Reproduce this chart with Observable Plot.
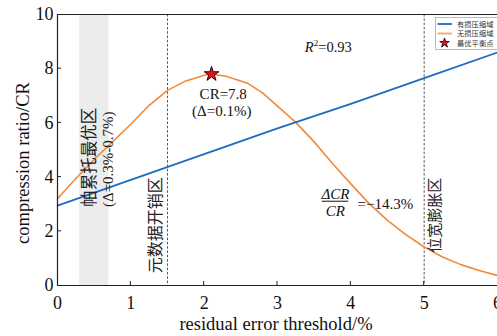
<!DOCTYPE html>
<html><head><meta charset="utf-8">
<script src="https://cdn.jsdelivr.net/npm/d3@7"></script>
<script src="https://cdn.jsdelivr.net/npm/@observablehq/plot@0.6"></script>
<style>body{margin:0;background:#fff} svg{display:block}</style>
</head><body><div id="chart"></div>
<script>
// ---- data ----
const lossyX = [0, 1, 2, 3, 4, 5, 6];
const lossyY = [2.95, 3.9, 4.85, 5.8, 6.7, 7.65, 8.6];
const losslessX = [0, 0.25, 0.5, 0.75, 1.0, 1.25, 1.5, 1.75, 2.0, 2.1, 2.3, 2.6, 2.8, 3.0, 3.25, 3.5, 3.75, 4.0, 4.25, 4.5, 4.75, 5.0, 5.25, 5.5, 5.75, 6.0];
const losslessY = [3.2, 3.95, 4.65, 5.3, 5.95, 6.65, 7.2, 7.55, 7.76, 7.8, 7.72, 7.45, 7.1, 6.62, 6.02, 5.3, 4.5, 3.75, 3.02, 2.4, 1.88, 1.42, 1.05, 0.77, 0.55, 0.37];
const optimumX = [2.1];
const optimumY = [7.8];
const xTicks = [0, 1, 2, 3, 4, 5, 6];
const yTicks = [0, 2, 4, 6, 8, 10];
const paretoBand = [0.3, 0.7];
const zoneBounds = [1.5, 5];
const legendLabels = ["有损压缩域", "无损压缩域", "最优平衡点"];
const xLabel = "residual error threshold/%";
const yLabel = "compression ratio/CR";
// annotation anchors (data units)
const zoneLabels = [
  {x: 0.44, y: 4.73, text: "帕累托最优区", size: 16.5},
  {x: 1.34, y: 2.22, text: "元数据开销区", size: 16},
  {x: 5.15, y: 2.59, text: "位宽膨胀区", size: 15}
];
const rangeLabels = [{x: 0.69, y: 4.66, text: "(Δ=0.3%-0.7%)"}];
const optLabels = [
  {x: 2.26, y: 7.06, text: "CR=7.8"},
  {x: 2.24, y: 6.43, text: "(Δ=0.1%)"}
];
const r2Anchor = {x: 3.70, y: 8.8, value: "0.93"};
const fracAnchor = {x: 3.79, yNum: 3.36, yDen: 2.74, yBar: 3.11, x1: 3.61, x2: 3.97, eqX: 4.47, eqY: 2.99, value: "=−14.3%"};

const BLUE = "#1f6bc4", ORANGE = "#ef8a3d", ORANGE_L = "#f5a46c";
const SERIF = "'Liberation Serif', 'Times New Roman', serif";
const CJK = "'Noto Sans CJK SC', sans-serif";

const lossy = lossyX.map((x, i) => ({x, y: lossyY[i]}));
const lossless = losslessX.map((x, i) => ({x, y: losslessY[i]}));
const optimum = optimumX.map((x, i) => ({x, y: optimumY[i]}));

const plot = Plot.plot({
  width: 497, height: 336,
  marginLeft: 57, marginRight: 0, marginTop: 14, marginBottom: 51,
  style: `font-family: ${SERIF}; font-size: 18px; color: #111; background: #fff; overflow: visible;`,
  x: {domain: [0, 6], label: null},
  y: {domain: [0, 10], label: null},
  marks: [
    Plot.rect([paretoBand], {x1: d => d[0], x2: d => d[1], fill: "#ececec"}),
    Plot.ruleX(zoneBounds, {stroke: "#555", strokeWidth: 1, strokeDasharray: "2.5,1.8"}),
    Plot.line(lossless, {x: "x", y: "y", stroke: ORANGE, strokeWidth: 1.6}),
    Plot.line(lossy, {x: "x", y: "y", stroke: BLUE, strokeWidth: 1.8}),
    Plot.dot(optimum, {x: "x", y: "y", symbol: "star", r: 4.6, fill: "#e8141c", stroke: "#000", strokeWidth: 0.9}),
    Plot.ruleY([0, 10], {stroke: "#222", strokeWidth: 1.2}),
    Plot.ruleX([0], {stroke: "#222", strokeWidth: 1.2}),
    Plot.axisX({ticks: xTicks, tickFormat: d => String(d), tickSize: 0, tickPadding: 11, fontSize: 18, fontFamily: SERIF, fill: "#111"}),
    Plot.axisY({ticks: yTicks, tickFormat: d => String(d), tickSize: 0, tickPadding: 4, fontSize: 18, fontFamily: SERIF, fill: "#111"}),
    Plot.text(zoneLabels, {x: "x", y: "y", text: "text", rotate: -90, fontSize: d => d.size, fontFamily: CJK, fill: "#222"}),
    Plot.text(rangeLabels, {x: "x", y: "y", text: "text", rotate: -90, fontSize: 15, fontFamily: SERIF, fill: "#222"}),
    Plot.text(optLabels, {x: "x", y: "y", text: "text", fontSize: 15, fontFamily: SERIF, fill: "#111"}),
    Plot.text([fracAnchor], {x: "x", y: "yNum", text: () => "ΔCR", fontSize: 15, fontStyle: "italic", fontFamily: SERIF, fill: "#111"}),
    Plot.text([fracAnchor], {x: "x", y: "yDen", text: () => "CR", fontSize: 15, fontStyle: "italic", fontFamily: SERIF, fill: "#111"}),
    Plot.ruleY([fracAnchor], {y: "yBar", x1: "x1", x2: "x2", stroke: "#111", strokeWidth: 1}),
    Plot.text([fracAnchor], {x: "eqX", y: "eqY", text: "value", fontSize: 15, fontFamily: SERIF, fill: "#111"})
  ]
});

const svg = d3.select(plot);
const sx = plot.scale("x"), sy = plot.scale("y");
// inward ticks
const tg = svg.append("g").attr("stroke", "#222").attr("stroke-width", 1);
xTicks.slice(1, -1).forEach(t => tg.append("line").attr("x1", sx.apply(t)).attr("x2", sx.apply(t)).attr("y1", sy.apply(0)).attr("y2", sy.apply(0) - 4));
yTicks.slice(1, -1).forEach(t => tg.append("line").attr("y1", sy.apply(t)).attr("y2", sy.apply(t)).attr("x1", sx.apply(0)).attr("x2", sx.apply(0) + 4));

// axis labels
svg.append("text").attr("x", 276).attr("y", 330).attr("text-anchor", "middle")
  .attr("font-family", SERIF).attr("font-size", 18.5).attr("fill", "#111").text(xLabel);
svg.append("text").attr("transform", "translate(29,163) rotate(-90)").attr("text-anchor", "middle")
  .attr("font-family", SERIF).attr("font-size", 18.5).attr("fill", "#111").text(yLabel);

// R^2 label
const r2 = svg.append("text").attr("x", sx.apply(r2Anchor.x)).attr("y", sy.apply(r2Anchor.y) + 5)
  .attr("text-anchor", "middle").attr("font-family", SERIF).attr("font-size", 14.5).attr("fill", "#111");
r2.append("tspan").attr("font-style", "italic").text("R");
r2.append("tspan").attr("font-size", 9).attr("dy", -6).text("2");
r2.append("tspan").attr("dy", 6).text("=" + r2Anchor.value);

// legend
const lg = svg.append("g");
lg.append("rect").attr("x", 435.5).attr("y", 17.5).attr("width", 70).attr("height", 32)
  .attr("fill", "#fff").attr("stroke", "#aaa").attr("stroke-width", 0.8);
const rowsY = [24, 33.5, 43];
lg.append("line").attr("x1", 437.5).attr("x2", 452).attr("y1", rowsY[0]).attr("y2", rowsY[0]).attr("stroke", BLUE).attr("stroke-width", 1.8);
lg.append("line").attr("x1", 437.5).attr("x2", 452).attr("y1", rowsY[1]).attr("y2", rowsY[1]).attr("stroke", ORANGE_L).attr("stroke-width", 1.8);
lg.append("path").attr("d", d3.symbol(d3.symbolStar, 28)()).attr("transform", `translate(444.5,${rowsY[2]})`)
  .attr("fill", "#e8141c").attr("stroke", "#000").attr("stroke-width", 0.8);
legendLabels.forEach((t, i) => lg.append("text").attr("x", 457).attr("y", rowsY[i]).attr("dy", "0.36em")
  .attr("text-anchor", "start").attr("font-family", CJK).attr("font-size", 7.3).attr("fill", "#333").text(t));

document.getElementById("chart").appendChild(plot);
</script>
</body></html>
